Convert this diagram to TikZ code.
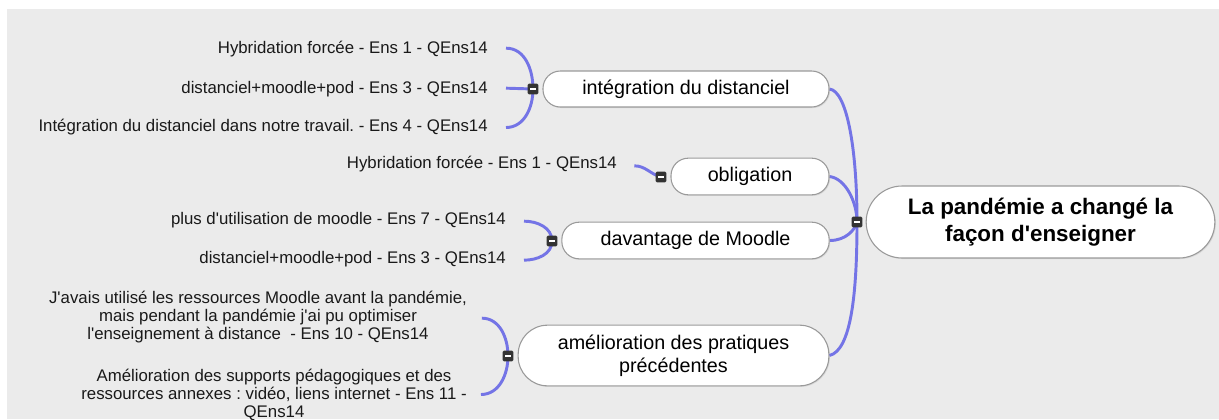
\documentclass[tikz,border=0pt]{standalone}
\usepackage{fontspec}
\setmainfont{Liberation Sans}[Ligatures=TeXOff]
\usetikzlibrary{shadows}
\pgfdeclarelayer{bg}
\pgfdeclarelayer{lines}
\pgfsetlayers{bg,lines,main}
\definecolor{bggray}{HTML}{EBEBEB}
\definecolor{link}{HTML}{7474E6}
\definecolor{boxline}{HTML}{9A9A9A}
\definecolor{collapse}{HTML}{333333}
\tikzset{
  leaf/.style={inner sep=0pt, font=\fontsize{12.6}{13.5}\selectfont, text=black!90},
  topic/.style={draw=boxline, line width=0.8pt, fill=white, rounded corners=13pt,
    inner sep=0pt, font=\fontsize{14.8}{17.25}\selectfont, align=center,
    drop shadow={opacity=0.18, shadow xshift=0.8pt, shadow yshift=-0.8pt}},
  rootbox/.style={draw=boxline, line width=0.8pt, fill=white, rounded corners=27pt,
    inner sep=0pt, font=\fontsize{16.8}{20.25}\selectfont\bfseries, align=center,
    minimum width=261.5pt, minimum height=54pt,
    drop shadow={opacity=0.18, shadow xshift=0.8pt, shadow yshift=-0.8pt}},
  collapsebox/.style={fill=collapse, rounded corners=1pt, minimum size=8pt, inner sep=0pt,
    path picture={\draw[white, line width=1pt] ([xshift=-2.2pt]path picture bounding box.center) -- ([xshift=2.2pt]path picture bounding box.center);}},
  linkline/.style={draw=link, line width=2.2pt},
}
\begin{document}
\frenchspacing
\begin{tikzpicture}[x=0.75pt,y=-0.75pt]
\useasboundingbox (0,0) rectangle (1219,419);
\begin{pgfonlayer}{bg}
\fill[white] (0,0) rectangle (1219,419);
\fill[bggray] (7,9) rectangle (1219,419);
\end{pgfonlayer}

% root
\node[rootbox] (root) at (1040.5,222) {La pandémie a changé la\\façon d'enseigner};
\node[collapsebox] (rc) at (857,222) {};

% topics
\node[topic, minimum width=214.5pt, minimum height=27pt] (integ) at (686,89) {intégration du distanciel};
\node[collapsebox] (ci) at (533,89) {};
\node[topic, minimum width=118.5pt, minimum height=27.5pt] (oblig) at (750,176.5) {obligation};
\node[collapsebox] (co) at (661,177) {};
\node[topic, minimum width=200.5pt, minimum height=27.5pt] (davan) at (695.5,240.5) {davantage de Moodle};
\node[collapsebox] (cd) at (552,241) {};
\node[topic, minimum width=233pt, minimum height=45.5pt, rounded corners=22pt] (amel) at (673.5,355.5) {amélioration des pratiques\\précédentes};
\node[collapsebox] (ca) at (508,356) {};

% leaves
\node[leaf, anchor=east] (l1) at (488,49.5) {Hybridation forcée - Ens 1 - QEns14};
\node[leaf, anchor=east] (l2) at (488,89.5) {distanciel+moodle+pod - Ens 3 - QEns14};
\node[leaf, anchor=east] (l3) at (488,127.5) {Intégration du distanciel dans notre travail. - Ens 4 - QEns14};
\node[leaf, anchor=east] (l4) at (617,164.5) {Hybridation forcée - Ens 1 - QEns14};
\node[leaf, anchor=east] (l5) at (506,220.5) {plus d'utilisation de moodle - Ens 7 - QEns14};
\node[leaf, anchor=east] (l6) at (506,259.5) {distanciel+moodle+pod - Ens 3 - QEns14};
\node[leaf, align=center] (l7) at (258,317.5) {J'avais utilisé les ressources Moodle avant la pandémie,\\mais pendant la pandémie j'ai pu optimiser\\l'enseignement à distance~~- Ens 10 - QEns14};
\node[leaf, align=center] (l8) at (274,394.5) {Amélioration des supports pédagogiques et des\\ressources annexes : vidéo, liens internet - Ens 11 -\\QEns14};

\begin{pgfonlayer}{lines}
% root links
\draw[linkline] (integ.east) .. controls ++(17,2) and ++(0,-75) .. (rc.center);
\draw[linkline] (oblig.east) .. controls ++(16,2) and ++(0,-20) .. (rc.center);
\draw[linkline] (davan.east) .. controls ++(16,0) and ++(-2,8) .. (rc.center);
\draw[linkline] (amel.east) .. controls ++(22,-5) and ++(0,70) .. (rc.center);
% leaf links
\draw[linkline] ([xshift=13.5pt,yshift=1pt]l1.east) to[out=0,in=90] (ci.center);
\draw[linkline] ([xshift=13.5pt,yshift=1pt]l2.east) -- (ci.center);
\draw[linkline] ([xshift=13.5pt]l3.east) to[out=0,in=-90] (ci.center);
\draw[linkline] ([xshift=13pt,yshift=-1pt]l4.east) to[out=0,in=165] (co.center);
\draw[linkline] ([xshift=13.5pt,yshift=-0.5pt]l5.east) to[out=0,in=90] (cd.center);
\draw[linkline] ([xshift=13.5pt,yshift=-0.5pt]l6.east) to[out=0,in=-90] (cd.center);
\draw[linkline] ([xshift=11pt,yshift=-0.5pt]l7.east) to[out=0,in=90] (ca.center);
\draw[linkline] ([xshift=10.5pt,yshift=0pt]l8.east) to[out=0,in=-90] (ca.center);
\end{pgfonlayer}
\end{tikzpicture}
\end{document}
